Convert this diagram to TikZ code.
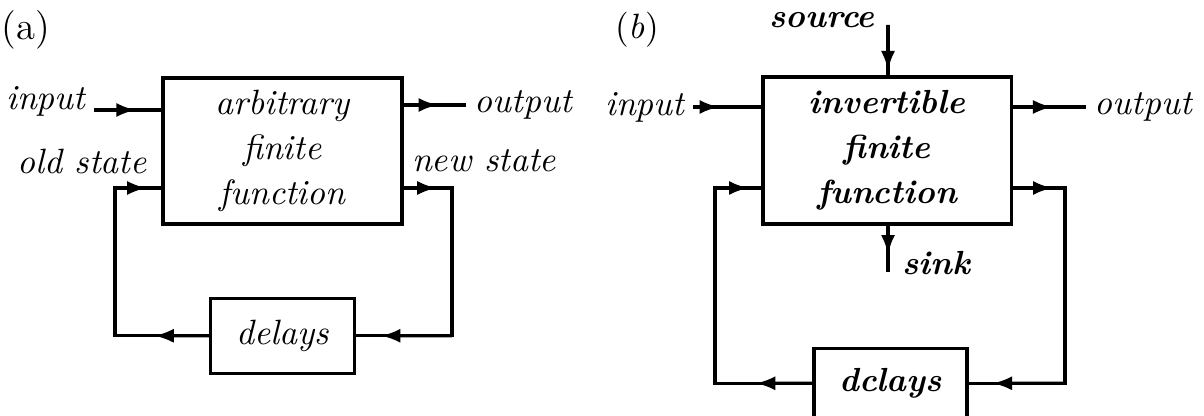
\documentclass[tikz,border=0pt]{standalone}
\usepackage{tikz}
\usetikzlibrary{positioning, arrows.meta, calc}

\tikzset{
  flowtip/.tip={Latex[length=5.5pt,width=4pt]},
  tipline/.style={-flowtip},
}

\begin{document}
\begin{tikzpicture}[
  x=0.01cm, y=-0.01cm,
  line width=0.9pt,
  every node/.style={font=\fontsize{10}{12.8}\selectfont\itshape, inner sep=2pt},
  fnbox/.style={draw, align=center, inner sep=0pt},
  dlbox/.style={draw, inner sep=0pt},
  boldtext/.style={font=\fontsize{9.5}{12.8}\selectfont\bfseries\itshape},
]
\useasboundingbox (0,0) rectangle (1204,416);

% (a) arbitrary function with delays
\node[font=\fontsize{11}{13}\selectfont] (taga) at (26,30) {(a)};
\node[fnbox, minimum width=2.39cm, minimum height=1.46cm] (fa) at (282.5,151)
  {arbitrary\\finite\\function};
\node[dlbox, minimum width=1.44cm, minimum height=0.75cm, below=0.71cm of fa] (da) {delays};

\node[anchor=base east] (ina) at (94,110) {input};
\node[anchor=west] (outa) at (466,105) {output};
\node (olda) at (82,161) {old state};
\node (newa) at (484,161) {new state};
\coordinate (ola) at (115,188);
\coordinate (nsa) at (452,188);

\draw (ina.base east) -- (ina.base east -| fa.west);
\draw[tipline] (ina.base east) -- ($(ina.base east)!0.62!(ina.base east -| fa.west)$);
\draw (outa.west -| fa.east) -- (outa.west);
\draw[tipline] (outa.west -| fa.east) -- ($(outa.west -| fa.east)!0.55!(outa.west)$);

\draw (da.west) -| (ola) -- (ola -| fa.west);
\draw[tipline] (da.west) -- ($(da.west)!0.58!(da.west -| ola)$);
\draw[tipline] (ola) -- ($(ola)!0.68!(ola -| fa.west)$);

\draw (nsa -| fa.east) -- (nsa) |- (da.east);
\draw[tipline] (nsa -| fa.east) -- ($(nsa -| fa.east)!0.68!(nsa)$);
\draw[tipline] (nsa |- da.east) -- ($(nsa |- da.east)!0.74!(da.east)$);

% (b) invertible function with source and sink
\node (tagb) at (637,30) {{\upshape(}b{\upshape)}};
\node[fnbox, boldtext, minimum width=2.48cm, minimum height=1.47cm] (fb) at (887,150.5)
  {invertible\\finite\\function};
\node[dlbox, boldtext, minimum width=1.53cm, minimum height=0.70cm,
  below=1.21cm of fb, xshift=0.035cm] (db) {dclays};

\node[anchor=east] (inb) at (693,107) {input};
\node[anchor=west] (outb) at (1086,107) {output};
\node[boldtext] (src) at (822,20) {source};
\node[boldtext, anchor=base west] (snk) at (894,275) {sink};
\coordinate (srctop) at (888,25);
\coordinate (snkend) at (888,272);
\coordinate (olb) at (715,188);
\coordinate (nsb) at (1065,188);

\draw (inb.east) -- (inb.east -| fb.west);
\draw[tipline] (inb.east) -- ($(inb.east)!0.38!(inb.east -| fb.west)$);
\draw (outb.west -| fb.east) -- (outb.west);
\draw[tipline] (outb.west -| fb.east) -- ($(outb.west -| fb.east)!0.54!(outb.west)$);
\draw (srctop) -- (srctop |- fb.north);
\draw[tipline] (srctop) -- ($(srctop)!0.9!(srctop |- fb.north)$);
\draw (snkend |- fb.south) -- (snkend);
\draw[tipline] (snkend |- fb.south) -- ($(snkend |- fb.south)!0.62!(snkend)$);

\draw (db.west) -| (olb) -- (olb -| fb.west);
\draw[tipline] (db.west) -- ($(db.west)!0.58!(db.west -| olb)$);
\draw[tipline] (olb) -- ($(olb)!0.72!(olb -| fb.west)$);

\draw (nsb -| fb.east) -- (nsb) |- (db.east);
\draw[tipline] (nsb -| fb.east) -- ($(nsb -| fb.east)!0.76!(nsb)$);
\draw[tipline] (nsb |- db.east) -- ($(nsb |- db.east)!0.75!(db.east)$);

\end{tikzpicture}
\end{document}
